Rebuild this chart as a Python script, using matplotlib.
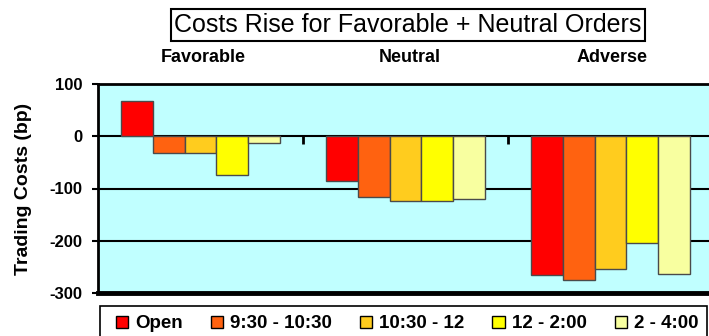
import matplotlib
matplotlib.use("Agg")
import matplotlib.pyplot as plt
from matplotlib.patches import Rectangle
import numpy as np

plt.rcParams['font.family'] = ['Liberation Sans', 'DejaVu Sans']

groups = ["Favorable", "Neutral", "Adverse"]
series = ["Open", "9:30 - 10:30", "10:30 - 12", "12 - 2:00", "2 - 4:00"]
values = {
    "Open":         [68, -85, -266],
    "9:30 - 10:30": [-32, -117, -275],
    "10:30 - 12":   [-32, -124, -254],
    "12 - 2:00":    [-74, -124, -205],
    "2 - 4:00":     [-13, -120, -263],
}
colors = ["#FF0000", "#FF6210", "#FFCC1E", "#FFFF00", "#F8FFA0"]
yticks = [100, 0, -100, -200, -300]
title = "Costs Rise for Favorable + Neutral Orders"
ylabel = "Trading Costs (bp)"

W, H = 709, 336
fig = plt.figure(figsize=(W / 100, H / 100), dpi=100)
ax = fig.add_axes([98 / W, 1 - 293 / H, 615 / W, 209 / H])
ax.set_facecolor("#C0FFFF")

x = np.arange(len(groups))
bw = 0.156
for i, s in enumerate(series):
    ax.bar(x + (i - 2) * bw, values[s], width=bw, color=colors[i],
           edgecolor="#4a4a4a", linewidth=1, zorder=3)

ax.set_xlim(-0.5, 2.5)
ax.set_ylim(-300, 100)
ax.set_yticks(yticks)
ax.set_yticklabels([str(v) for v in yticks], fontsize=12, fontweight="bold")
ax.tick_params(axis="y", direction="out", length=4.5, width=1.5, pad=7)

# horizontal gridlines
for v in [0, -100, -200]:
    ax.axhline(v, color="black", linewidth=1.5, zorder=2)

# category axis at zero with tick marks between groups
ax.spines["bottom"].set_position(("data", 0))
ax.spines["bottom"].set_visible(False)
ax.set_xticks([0.5, 1.5])
ax.set_xticklabels([])
ax.tick_params(axis="x", direction="out", length=6, width=2, color="black")
ax.axhline(-300, color="black", linewidth=3.5, zorder=4, clip_on=False)
ax.spines["top"].set_linewidth(2)
ax.spines["left"].set_linewidth(2)
ax.spines["right"].set_visible(False)

ax.set_ylabel(ylabel, fontsize=14, fontweight="bold", labelpad=12)

# title box
fig.text(408 / W, 1 - 25 / H, title, ha="center", va="center", fontsize=18,
         bbox=dict(boxstyle="square,pad=0.15", facecolor="white",
                   edgecolor="black", linewidth=1.5))

# group labels
for gx, g in zip([203, 410, 612], groups):
    fig.text(gx / W, 1 - 58 / H, g, ha="center", va="center",
             fontsize=13, fontweight="bold")

# legend frame
fig.patches.append(Rectangle((100 / W, 1 - 342 / H), 607 / W, 36 / H,
                             transform=fig.transFigure, facecolor="white",
                             edgecolor="black", linewidth=1.2, zorder=0))
handles = [Rectangle((0, 0), 1, 1, facecolor=c, edgecolor="black", linewidth=1)
           for c in colors]
leg = fig.legend(handles, series, loc="center", ncol=5,
                 bbox_to_anchor=(407 / W, 1 - 324 / H), frameon=False,
                 prop=dict(size=13.5, weight="bold"), handlelength=0.65,
                 handleheight=0.65, handletextpad=0.37, columnspacing=1.5,
                 borderpad=0)

fig.savefig("out.png", dpi=100)
